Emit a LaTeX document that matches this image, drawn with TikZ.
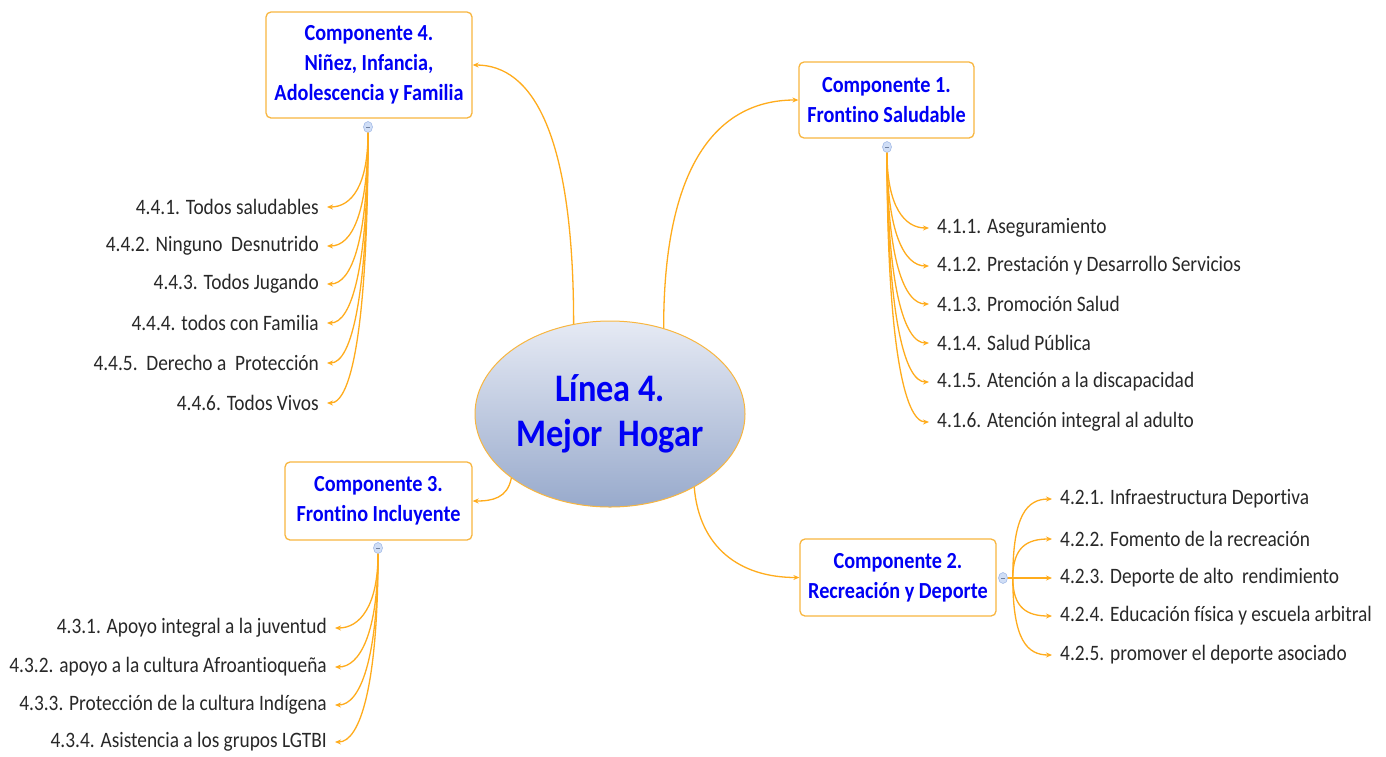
\documentclass[tikz,border=0pt]{standalone}
\usepackage{fontspec}
\setmainfont{Carlito}[FakeStretch=0.88, Ligatures=CommonOff]
\usetikzlibrary{shapes.geometric,arrows.meta}
\definecolor{connc}{RGB}{255,172,28}
\definecolor{boxor}{RGB}{248,182,64}
\definecolor{tblue}{RGB}{0,0,245}
\definecolor{tgray}{RGB}{40,40,40}
\definecolor{dotf}{RGB}{208,222,246}
\definecolor{dotb}{RGB}{160,184,230}
\definecolor{ellt}{RGB}{230,234,244}
\definecolor{ellb}{RGB}{152,170,204}
\newcommand\compfont{\fontsize{23}{30}\selectfont\bfseries}
\newcommand\itemfont{\fontsize{22}{26}\selectfont}
\newcommand\titlefont{\fontsize{39}{45}\selectfont\bfseries}
\begin{document}
\begin{tikzpicture}[x=1pt,y=-1pt,
  comp/.style={draw=boxor, line width=1.3pt, rounded corners=5pt, fill=white,
    align=center, font=\compfont, text=tblue, inner sep=0pt},
  item/.style={font=\itemfont, text=tgray, inner xsep=8pt, inner ysep=2pt},
  conn/.style={draw=connc, line width=1.3pt, -{Stealth[length=6pt,width=5pt]}},
  dotnode/.style={ellipse, draw=dotb, fill=dotf, minimum width=9pt,
    minimum height=11pt, inner sep=0pt, line width=0.6pt},
  dotminus/.style={draw=dotb!70!black, line width=0.6pt}]
\useasboundingbox (0,0) rectangle (1386,756);
\fill[white] (0,0) rectangle (1386,756);

% central ellipse
\node[ellipse, draw=boxor, line width=1pt, top color=ellt, bottom color=ellb,
  minimum width=270pt, minimum height=186pt, inner sep=0pt, align=center,
  font=\titlefont, text=tblue] (main) at (610,414) {Línea 4.\\Mejor\ \ Hogar};

% components
\node[comp, minimum width=206pt, minimum height=106pt] (c4) at (369,65)
  {Componente 4.\\Niñez, Infancia,\\Adolescencia y Familia};
\node[comp, minimum width=175pt, minimum height=76pt] (c1) at (886.5,100)
  {Componente 1.\\Frontino Saludable};
\node[comp, minimum width=196pt, minimum height=77pt] (c2) at (898,577.5)
  {Componente 2.\\Recreación y Deporte};
\node[comp, minimum width=187pt, minimum height=78pt] (c3) at (378.5,501)
  {Componente 3.\\Frontino Incluyente};

% collapse dots
\foreach \n/\p in {c4dot/{(368,127)}, c1dot/{(887,147)}, c2dot/{(1003,578)}, c3dot/{(378,548)}}{
  \node[dotnode] (\n) at \p {};
  \draw[dotminus] ([xshift=-2pt]\n.center) -- ([xshift=2pt]\n.center);
}

% main connectors
\draw[conn] (main.112) .. controls +(0,-190) and +(60,0) .. (c4.east);
\draw[conn] (main.58) .. controls +(0,-180) and +(-70,0) .. (c1.west);
\draw[conn] (main.213) .. controls +(-4,20) and +(20,0) .. (c3.east);
\draw[conn] (main.-41) .. controls +(5,60) and +(-60,0) .. (c2.west);

% component 4 items
\node[item, anchor=east] (i41) at (327,207) {4.4.1. Todos saludables};
\node[item, anchor=east] (i42) at (327,246) {4.4.2. Ninguno\ \ Desnutrido};
\node[item, anchor=east] (i43) at (327,284) {4.4.3. Todos Jugando};
\node[item, anchor=east] (i44) at (327,323) {4.4.4. todos con Familia};
\node[item, anchor=east] (i45) at (327,363) {4.4.5.\ \ Derecho a\ \ Protección};
\node[item, anchor=east] (i46) at (327,403) {4.4.6. Todos Vivos};
\draw[conn] (c4dot.south) .. controls +(0,52) and +(25,0) .. (i41.east);
\draw[conn] (c4dot.south) .. controls +(0,80) and +(25,0) .. (i42.east);
\draw[conn] (c4dot.south) .. controls +(0,106) and +(25,0) .. (i43.east);
\draw[conn] (c4dot.south) .. controls +(0,134) and +(25,0) .. (i44.east);
\draw[conn] (c4dot.south) .. controls +(0,162) and +(25,0) .. (i45.east);
\draw[conn] (c4dot.south) .. controls +(0,190) and +(25,0) .. (i46.east);

% component 1 items
\node[item, anchor=west] (i11) at (929,228) {4.1.1. Aseguramiento};
\node[item, anchor=west] (i12) at (929,266) {4.1.2. Prestación y Desarrollo Servicios};
\node[item, anchor=west] (i13) at (929,304) {4.1.3. Promoción Salud};
\node[item, anchor=west] (i14) at (929,343) {4.1.4. Salud Pública};
\node[item, anchor=west] (i15) at (929,382) {4.1.5. Atención a la discapacidad};
\node[item, anchor=west] (i16) at (929,422) {4.1.6. Atención integral al adulto};
\draw[conn] (c1dot.south) .. controls +(0,53) and +(-25,0) .. (i11.west);
\draw[conn] (c1dot.south) .. controls +(0,79) and +(-25,0) .. (i12.west);
\draw[conn] (c1dot.south) .. controls +(0,106) and +(-25,0) .. (i13.west);
\draw[conn] (c1dot.south) .. controls +(0,133) and +(-25,0) .. (i14.west);
\draw[conn] (c1dot.south) .. controls +(0,160) and +(-25,0) .. (i15.west);
\draw[conn] (c1dot.south) .. controls +(0,188) and +(-25,0) .. (i16.west);

% component 2 items
\node[item, anchor=west] (i21) at (1052,499) {4.2.1. Infraestructura Deportiva};
\node[item, anchor=west] (i22) at (1052,539) {4.2.2. Fomento de la recreación};
\node[item, anchor=west] (i23) at (1052,578) {4.2.3. Deporte de alto\ \ rendimiento};
\node[item, anchor=west] (i24) at (1052,616) {4.2.4. Educación física y escuela arbitral};
\node[item, anchor=west] (i25) at (1052,655) {4.2.5. promover el deporte asociado};
\draw[conn] (c2dot.east) -- ++(5,0) .. controls +(0,-63) and +(-25,0) .. (i21.west);
\draw[conn] (c2dot.east) -- ++(5,0) .. controls +(0,-31) and +(-25,0) .. (i22.west);
\draw[conn] (c2dot.east) -- (i23.west);
\draw[conn] (c2dot.east) -- ++(5,0) .. controls +(0,30) and +(-25,0) .. (i24.west);
\draw[conn] (c2dot.east) -- ++(5,0) .. controls +(0,62) and +(-25,0) .. (i25.west);

% component 3 items
\node[item, anchor=east] (i31) at (335,628) {4.3.1. Apoyo integral a la juventud};
\node[item, anchor=east] (i32) at (335,667) {4.3.2. apoyo a la cultura Afroantioqueña};
\node[item, anchor=east] (i33) at (335,705) {4.3.3. Protección de la cultura Indígena};
\node[item, anchor=east] (i34) at (335,742) {4.3.4. Asistencia a los grupos LGTBI};
\draw[conn] (c3dot.south) .. controls +(0,52) and +(25,0) .. (i31.east);
\draw[conn] (c3dot.south) .. controls +(0,79) and +(25,0) .. (i32.east);
\draw[conn] (c3dot.south) .. controls +(0,106) and +(25,0) .. (i33.east);
\draw[conn] (c3dot.south) .. controls +(0,132) and +(25,0) .. (i34.east);
\end{tikzpicture}
\end{document}
